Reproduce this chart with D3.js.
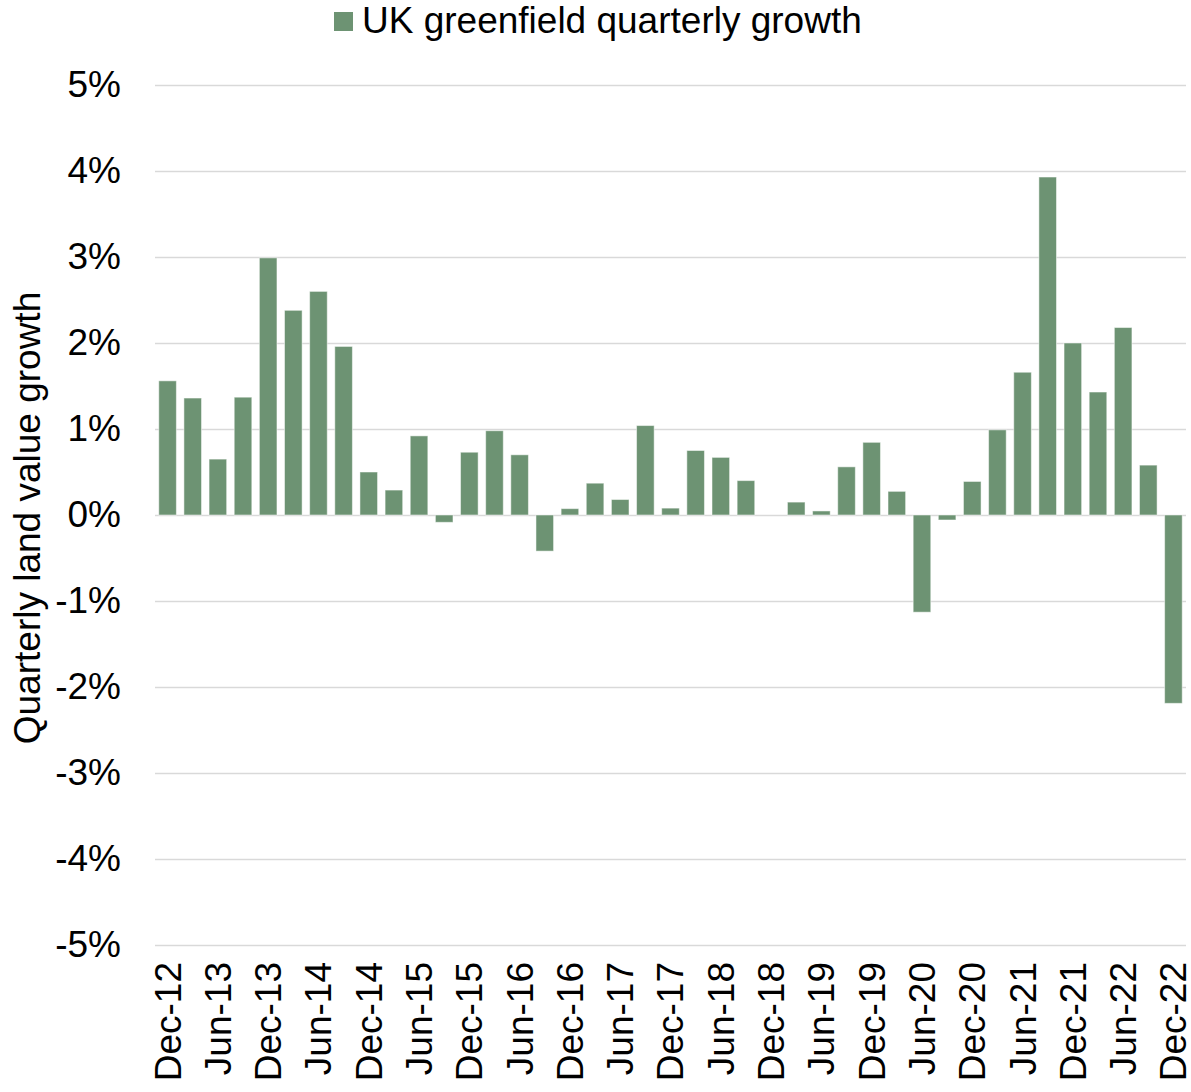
<!DOCTYPE html>
<html>
<head>
<meta charset="utf-8">
<script src="https://cdn.jsdelivr.net/npm/d3@7"></script>
<style>
  html, body { margin: 0; padding: 0; background: #fff; }
  svg { display: block; font-family: "Liberation Sans", Arial, sans-serif; }
</style>
</head>
<body>
<svg id="chart" width="1191" height="1092"></svg>
<script>
const categories = [
  "Dec-12","Mar-13","Jun-13","Sep-13","Dec-13","Mar-14","Jun-14","Sep-14",
  "Dec-14","Mar-15","Jun-15","Sep-15","Dec-15","Mar-16","Jun-16","Sep-16",
  "Dec-16","Mar-17","Jun-17","Sep-17","Dec-17","Mar-18","Jun-18","Sep-18",
  "Dec-18","Mar-19","Jun-19","Sep-19","Dec-19","Mar-20","Jun-20","Sep-20",
  "Dec-20","Mar-21","Jun-21","Sep-21","Dec-21","Mar-22","Jun-22","Sep-22",
  "Dec-22"
];
const growth = [
  1.56, 1.36, 0.65, 1.37, 2.99, 2.38, 2.60, 1.96,
  0.50, 0.29, 0.92, -0.085, 0.73, 0.98, 0.70, -0.42,
  0.074, 0.37, 0.18, 1.04, 0.08, 0.75, 0.67, 0.40,
  0.0, 0.15, 0.047, 0.56, 0.845, 0.275, -1.13, -0.058,
  0.39, 0.99, 1.66, 3.93, 2.00, 1.43, 2.18, 0.58,
  -2.19
];
const xTickLabels = categories.filter((d, i) => i % 2 === 0);
const yTicks = [-5, -4, -3, -2, -1, 0, 1, 2, 3, 4, 5];
const seriesName = "UK greenfield quarterly growth";
const yTitle = "Quarterly land value growth";

const barColor = "#6d9373";
const gridColor = "#d9d9d9";
const fontSize = 37;

const svg = d3.select("#chart");
const plotLeft = 155, plotRight = 1186, plotTop = 85, plotBottom = 945;

const x = d3.scaleBand().domain(categories).range([plotLeft, plotRight])
  .paddingInner(0.3).paddingOuter(0.15);
const y = d3.scaleLinear().domain([-5, 5]).range([plotBottom, plotTop]);

// Gridlines
const grid = svg.append("g").attr("transform", `translate(${plotLeft},0)`)
  .call(d3.axisLeft(y).tickValues(yTicks).tickSize(-(plotRight - plotLeft)).tickFormat(""));
grid.select(".domain").remove();
grid.selectAll(".tick line").attr("stroke", gridColor).attr("stroke-width", 1.5);

// Bars
svg.append("g").selectAll("rect").data(growth).join("rect")
  .attr("x", (d, i) => x(categories[i]))
  .attr("width", x.bandwidth())
  .attr("y", d => y(Math.max(0, d)))
  .attr("height", d => Math.abs(y(d) - y(0)))
  .attr("fill", barColor)
  .attr("stroke", "#ffffff")
  .attr("stroke-opacity", 0.5)
  .attr("stroke-width", 1);

// Y axis labels
const yAxis = svg.append("g").attr("transform", `translate(${plotLeft},0)`)
  .call(d3.axisLeft(y).tickValues(yTicks).tickSize(0).tickPadding(34)
    .tickFormat(d => d + "%"));
yAxis.select(".domain").remove();
yAxis.selectAll("text")
  .attr("font-size", fontSize).attr("fill", "#000")
  .attr("font-family", "Liberation Sans, Arial, sans-serif");

// X axis labels
const xAxis = svg.append("g").attr("transform", `translate(0,${plotBottom})`)
  .call(d3.axisBottom(x).tickValues(xTickLabels).tickSize(0));
xAxis.select(".domain").remove();
xAxis.selectAll("text")
  .attr("font-size", fontSize).attr("fill", "#000")
  .attr("font-family", "Liberation Sans, Arial, sans-serif")
  .attr("text-anchor", "end")
  .attr("transform", "translate(0,17) rotate(-90)")
  .attr("x", 0).attr("y", 0).attr("dy", "0.35em");

// Y axis title
svg.append("text")
  .attr("transform", `translate(40,518) rotate(-90)`)
  .attr("text-anchor", "middle")
  .attr("font-size", fontSize)
  .attr("fill", "#000")
  .text(yTitle);

// Legend
const legend = svg.append("g");
legend.append("rect").attr("x", 334).attr("y", 12).attr("width", 19).attr("height", 19)
  .attr("fill", barColor);
legend.append("text").attr("x", 362).attr("y", 33)
  .attr("font-size", fontSize).attr("fill", "#000")
  .text(seriesName);
</script>
</body>
</html>
